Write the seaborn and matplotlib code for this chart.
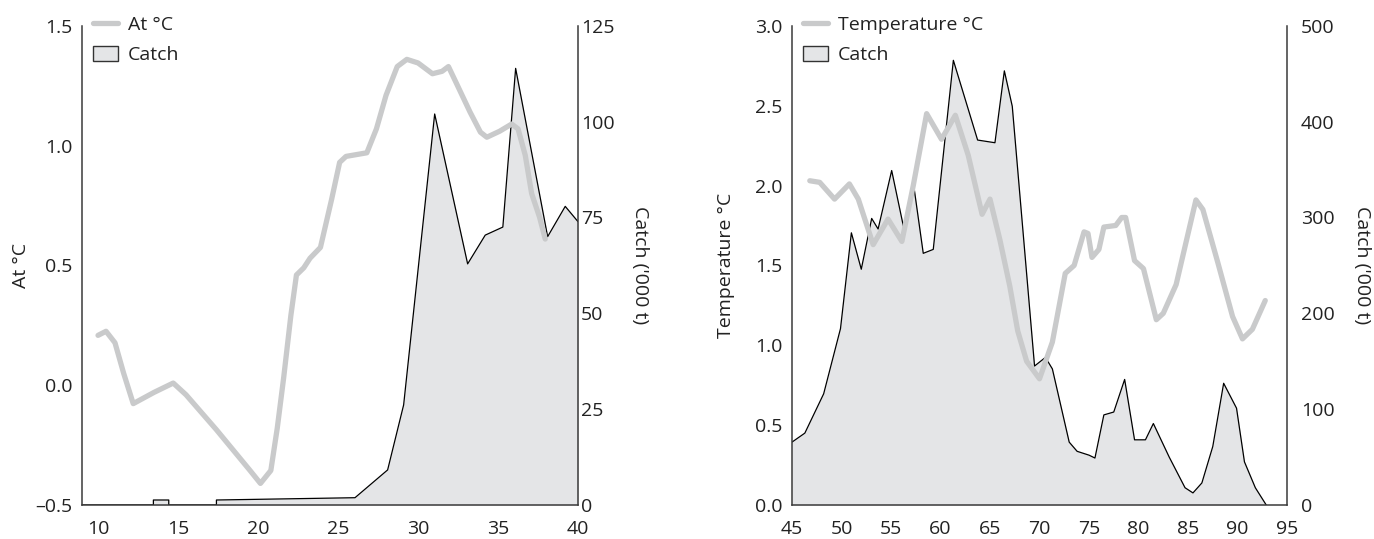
import numpy as np
import pandas as pd
import matplotlib.pyplot as plt
import matplotlib.patches as mpatches
from matplotlib.lines import Line2D
import seaborn as sns

# ---- left panel: At °C vs catch ----
left_temp_x = [10.0, 10.5, 11.06, 11.6, 12.2, 13.5, 14.7, 15.5, 17.4, 19.5, 20.15, 20.8,
               21.2, 21.6, 22.05, 22.4, 22.86, 23.25, 23.9, 24.6, 25.1, 25.5, 26.8, 27.4,
               28.0, 28.7, 29.3, 30.0, 30.9, 31.5, 31.9, 32.4, 33.25, 33.9, 34.3, 35.1,
               35.85, 36.25, 36.7, 37.1, 37.6, 37.95]
left_temp_y = [0.208, 0.225, 0.177, 0.05, -0.077, -0.03, 0.009, -0.04, -0.186, -0.356, -0.41, -0.356,
               -0.18, 0.03, 0.29, 0.46, 0.49, 0.53, 0.575, 0.776, 0.93, 0.955, 0.97, 1.07,
               1.21, 1.33, 1.36, 1.345, 1.30, 1.31, 1.33, 1.26, 1.14, 1.056, 1.035, 1.06,
               1.09, 1.07, 0.96, 0.80, 0.70, 0.61]

left_catch_x = [9.0, 13.46, 13.46, 14.42, 14.42, 17.4, 17.4, 26.06, 28.1, 29.1, 31.04, 33.1,
                34.2, 35.3, 36.1, 38.1, 39.2, 40.0]
left_catch_y = [0, 0, 1.3, 1.3, 0, 0, 1.3, 1.9, 9.15, 26.1, 102, 62.9,
                70.4, 72.5, 113.9, 70, 77.9, 73.9]

# ---- right panel: Temperature °C vs catch ----
right_temp_x = [46.8, 47.8, 49.3, 50.8, 51.7, 53.2, 54.7, 56.1, 57.25, 58.6, 60.1, 61.5,
                62.8, 64.2, 65.0, 66.0, 67.0, 67.8, 68.7, 70.0, 71.3, 72.6, 73.5, 74.5,
                74.9, 75.3, 76.0, 76.5, 77.7, 78.3, 78.7, 79.6, 80.5, 81.8, 82.5, 83.8,
                85.8, 86.5, 88.0, 89.5, 90.5, 91.5, 92.8]
right_temp_y = [2.03, 2.02, 1.915, 2.01, 1.915, 1.63, 1.79, 1.65, 2.0, 2.45, 2.29, 2.44,
                2.19, 1.82, 1.915, 1.66, 1.37, 1.09, 0.90, 0.79, 1.02, 1.45, 1.50, 1.71,
                1.70, 1.55, 1.60, 1.74, 1.75, 1.80, 1.80, 1.53, 1.48, 1.16, 1.20, 1.38,
                1.91, 1.85, 1.52, 1.18, 1.04, 1.10, 1.28]

right_catch_x = [45.0, 46.3, 48.2, 49.9, 51.0, 52.0, 53.05, 53.7, 55.07, 56.25, 57.35, 58.26,
                 59.27, 61.3, 63.75, 65.5, 66.45, 67.25, 69.5, 70.6, 71.3, 73.0, 73.8, 75.0,
                 75.6, 76.5, 77.5, 78.6, 79.6, 80.7, 81.5, 83.1, 84.7, 85.5, 86.4, 87.5,
                 88.6, 89.9, 90.7, 91.8, 92.9]
right_catch_y = [65.6, 75, 116, 184, 284, 246, 299, 288, 349, 291, 329.5, 262.6,
                 266.7, 464, 380.8, 378, 453, 416, 145, 154, 142, 65.6, 56, 52,
                 49, 94, 97, 131, 68, 68, 85, 50, 18, 12.6, 23, 61,
                 127, 101, 45, 18, 0]

sns.set_style("white")
plt.rcParams['font.family'] = ['Open Sans', 'DejaVu Sans']
FS = 14

TEMP_COL = '#c9cacb'
FILL_COL = '#e4e5e7'
SPINE_COL = '#3a3a3a'
TEXT_COL = '#222222'

fig = plt.figure(figsize=(13.74, 5.39), dpi=100)

panels = [
    dict(rect=[0.0597, 0.0631, 0.361, 0.889], tx=left_temp_x, ty=left_temp_y,
         cx=left_catch_x, cy=left_catch_y, xlim=(9, 40), tlim=(-0.5, 1.5),
         clim=(0, 125), xticks=[10, 15, 20, 25, 30, 35, 40],
         tticks=[-0.5, 0.0, 0.5, 1.0, 1.5], cticks=[0, 25, 50, 75, 100, 125],
         tlabel='At °C', tlab_x=-0.105, clab_x=1.125, rpad=2),
    dict(rect=[0.5764, 0.0631, 0.3603, 0.889], tx=right_temp_x, ty=right_temp_y,
         cx=right_catch_x, cy=right_catch_y, xlim=(45, 95), tlim=(0, 3.0),
         clim=(0, 500), xticks=[45, 50, 55, 60, 65, 70, 75, 80, 85, 90, 95],
         tticks=[0.0, 0.5, 1.0, 1.5, 2.0, 2.5, 3.0], cticks=[0, 100, 200, 300, 400, 500],
         tlabel='Temperature °C', tlab_x=-0.115, clab_x=1.152, rpad=10),
]

for p in panels:
    ax_t = fig.add_axes(p['rect'])
    ax_c = ax_t.twinx()
    # catch underneath, temperature drawn on top
    ax_c.set_zorder(0)
    ax_t.set_zorder(1)
    ax_t.patch.set_visible(False)

    ax_c.fill_between(p['cx'], p['cy'], 0, color=FILL_COL, linewidth=0)
    sns.lineplot(x=p['cx'], y=p['cy'], ax=ax_c, color='black', linewidth=0.9,
                 estimator=None, sort=False)
    sns.lineplot(x=p['tx'], y=p['ty'], ax=ax_t, color=TEMP_COL, linewidth=3.8,
                 estimator=None, sort=False, solid_capstyle='round', solid_joinstyle='round')

    ax_t.set_xlim(p['xlim'])
    ax_t.set_ylim(p['tlim'])
    ax_c.set_ylim(p['clim'])
    ax_t.set_xticks(p['xticks'])
    ax_t.set_yticks(p['tticks'])
    ax_t.set_yticklabels([f'{v:.1f}'.replace('-', '\u2013') for v in p['tticks']])
    ax_c.set_yticks(p['cticks'])

    for a in (ax_t, ax_c):
        for s in a.spines.values():
            s.set_color(SPINE_COL)
            s.set_linewidth(1.1)
        a.spines['top'].set_visible(False)
    ax_t.spines['right'].set_visible(False)
    ax_c.spines['left'].set_visible(False)
    ax_c.spines['bottom'].set_visible(False)

    ax_t.tick_params(axis='both', length=0, labelsize=FS, colors=TEXT_COL)
    ax_t.tick_params(axis='x', pad=11)
    ax_t.tick_params(axis='y', pad=7)
    ax_c.tick_params(axis='y', length=0, labelsize=FS, pad=p['rpad'], colors=TEXT_COL)

    ax_t.set_ylabel(p['tlabel'], fontsize=FS, color=TEXT_COL)
    ax_t.yaxis.set_label_coords(p['tlab_x'], 0.5)
    ax_c.set_ylabel("Catch ('000 t)", fontsize=FS, color=TEXT_COL, rotation=270, va='center')
    ax_c.yaxis.set_label_coords(p['clab_x'], 0.5)
    ax_t.set_xlabel('')

    handles = [Line2D([0], [0], color=TEMP_COL, linewidth=3.8, solid_capstyle='round'),
               mpatches.Patch(facecolor=FILL_COL, edgecolor='#333333', linewidth=1.0)]
    ax_t.legend(handles, [p['tlabel'], 'Catch'], loc='upper left',
                bbox_to_anchor=(0.022, 1.021), frameon=False, fontsize=FS,
                handlelength=1.29, handleheight=0.82, handletextpad=0.52,
                labelspacing=0.6, borderpad=0, borderaxespad=0, labelcolor=TEXT_COL)

fig.savefig('out.png', dpi=100)
